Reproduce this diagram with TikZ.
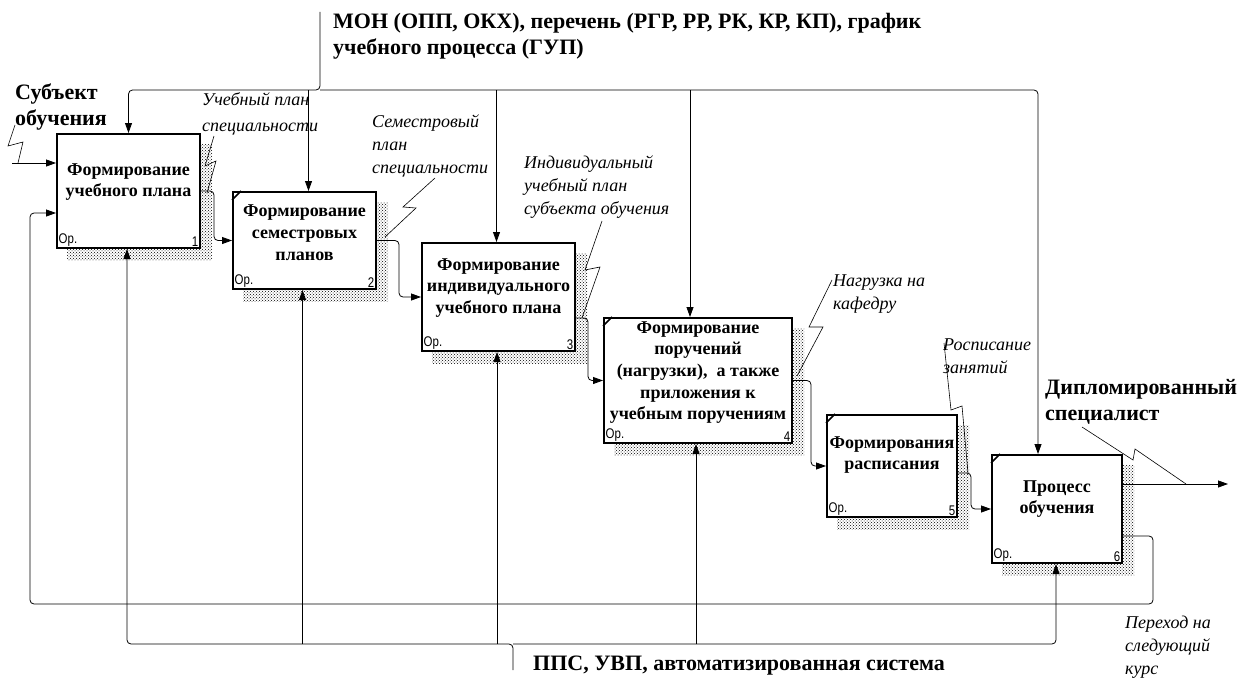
\documentclass[tikz,border=0pt]{standalone}
\usepackage{fontspec}
\setmainfont{Liberation Serif}
\newfontfamily\sansn[FakeStretch=0.82]{Liberation Sans}
\usetikzlibrary{arrows.meta,patterns,backgrounds,calc}
\begin{document}
\begin{tikzpicture}[x=1pt,y=-1pt,
  box/.style={draw, line width=2pt, fill=white, inner sep=0pt},
  btext/.style={font=\bfseries\fontsize{18}{21.7}\selectfont, align=center, inner sep=0pt},
  lab/.style={font=\itshape\fontsize{18}{23}\selectfont, align=left, inner sep=0pt, anchor=base west},
  big/.style={font=\bfseries\fontsize{22}{26}\selectfont, align=left, inner sep=0pt, anchor=base west},
  oplab/.style={font=\sansn\fontsize{14}{14}\selectfont, inner sep=2.5pt},
  arr/.style={line width=0.8pt, rounded corners=4pt, -{Triangle[length=10pt,width=7pt]}},
  sq/.style={line width=0.6pt},
  shad/.style={pattern=crosshatch dots, pattern color=black},
  tick/.style={line width=1.5pt}
]
\useasboundingbox (0,0) rectangle (1246,677);

% boxes
\node[box, minimum width=143pt, minimum height=114pt] (b1) at (128.5,191) {};
\node[box, minimum width=143pt, minimum height=97pt]  (b2) at (304.5,240.5) {};
\node[box, minimum width=153pt, minimum height=108pt] (b3) at (498.5,297) {};
\node[box, minimum width=188pt, minimum height=125pt] (b4) at (698,380.5) {};
\node[box, minimum width=130pt, minimum height=102pt] (b5) at (892,466) {};
\node[box, minimum width=130pt, minimum height=108pt] (b6) at (1057,509) {};

\begin{scope}[on background layer]
  \foreach \b in {b1,b2,b3,b4,b5,b6}{
    \fill[shad] ([shift={(11,11)}]\b.north west) rectangle ([shift={(11,11)}]\b.south east);
  }
\end{scope}

% corner ticks
\foreach \b in {b2,b4,b5,b6}{
  \draw[tick] ([yshift=-9pt]\b.north west) -- ([xshift=9pt]\b.north west);
}

% box texts
\node[btext] (t1) at ([yshift=9pt]b1.center) {Формирование\\учебного плана};
\node[btext] (t2) at ([yshift=8pt]b2.center) {Формирование\\семестровых\\планов};
\node[btext] (t3) at ([yshift=9pt]b3.center) {Формирование\\индивидуального\\учебного плана};
\node[btext] (t4) at ([yshift=8pt]b4.center) {Формирование\\поручений\\(нагрузки), \ а также\\приложения к\\учебным поручениям};
\node[btext] (t5) at ([yshift=11pt]b5.center) {Формирования\\расписания};
\node[btext] (t6) at ([yshift=10pt]b6.center) {Процесс\\обучения};

\foreach \b/\n in {b1/1,b2/2,b3/3,b4/4,b5/5,b6/6}{
  \node[oplab, anchor=south west] at (\b.south west) {Ор.};
  \node[oplab, anchor=south east] at (\b.south east) {\n};
}

% control
\coordinate (ctop) at (320,12);
\coordinate (cj) at (320,90);
\draw[arr] (ctop) -- (cj) -| (b1.north);
\draw[arr] (cj) -| ([xshift=-19pt]b6.north);
\draw[arr] ([xshift=4pt]b2.north |- cj) -- ([xshift=4pt]b2.north);
\draw[arr] ([xshift=-2pt]b3.north |- cj) -- ([xshift=-2pt]b3.north);
\draw[arr] ([xshift=-8pt]b4.north |- cj) -- ([xshift=-8pt]b4.north);

% mechanism
\coordinate (msrc) at (513,670);
\coordinate (mj) at (513,644);
\draw[arr] (msrc) -- (mj) -| ([xshift=-1.5pt]b1.south);
\draw[arr] (mj) -| ([xshift=-1pt]b6.south);
\draw[arr] ([xshift=-2pt]b2.south |- mj) -- ([xshift=-2pt]b2.south);
\draw[arr] ([xshift=-1.5pt]b3.south |- mj) -- ([xshift=-1.5pt]b3.south);
\draw[arr] ([xshift=-2pt]b4.south |- mj) -- ([xshift=-2pt]b4.south);

% flows between boxes
\draw[arr] (b1.east) -- ++(13,0) |- (b2.west);
\draw[arr] (b2.east) -- ++(22,0) |- (b3.west);
\draw[arr] ([yshift=-21pt]b3.east) -- ++(12,0) |- (b4.west);
\draw[arr] (b4.east) -- ++(18,0) |- (b5.west);
\draw[arr] ([yshift=-7pt]b5.east) -- ++(13,0) |- (b6.west);

% input, output, feedback
\coordinate (inS) at (12,163);
\draw[arr] (inS) -- ([yshift=28pt]b1.west);
\coordinate (outE) at (1228,484);
\draw[arr] ([yshift=25pt]b6.east) -- (outE);
\coordinate (fbr) at (1153,604);
\coordinate (fbl) at (30,604);
\draw[arr] ([yshift=-27pt]b6.east) -| (fbr) -- (fbl) |- ([yshift=-22pt]b1.west);

% squiggles
\draw[sq] (15,125) -- (8,146) -- (23,142) -- (18,163);
\draw[sq] (214,136) -- (205,166) -- (216,161) -- (207,193);
\draw[sq] (435,178) -- (403,207) -- (416,208) -- (385,237);
\draw[sq] (602,221) -- (585,270) -- (600,267) -- (582,318);
\draw[sq] (832,280) -- (809,327) -- (823,327) -- (797,376);
\draw[sq] (944,343) -- (951,410) -- (962,406) -- (968,473);
\draw[sq] (1082,427) -- (1133,460) -- (1135,449) -- (1186,484);

% labels (anchor = baseline of last line)
\node[big] (lmon) at (333,55) {МОН (ОПП, ОКХ), перечень (РГР, РР, РК, КР, КП), график\\учебного процесса (ГУП)};
\node[big] (lsub) at (15,125) {Субъект\\обучения};
\node[big] (ldip) at (1045,420) {Дипломированный\\специалист};
\node[big] (lpps) at (533,670) {ППС, УВП, автоматизированная система};
\node[lab] (l1) at (202,131) {Учебный план\\[3pt]специальности};
\node[lab] (l2) at (372,173) {Семестровый\\план\\специальности};
\node[lab] (l3) at (524,214) {Индивидуальный\\учебный план\\субъекта обучения};
\node[lab] (l4) at (833,309) {Нагрузка на\\кафедру};
\node[lab] (l5) at (943,373) {Росписание\\занятий};
\node[lab] (l6) at (1125,674) {Переход на\\следующий\\курс};
\end{tikzpicture}
\end{document}
